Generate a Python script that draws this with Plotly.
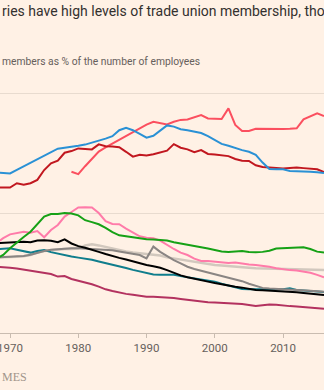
import plotly.graph_objects as go

years = list(range(1968, 2017))

# Trade union density, % of employees
blue = [66.8, 66.8, 66.5, 68.0, 69.5, 71.0, 72.5, 74.0, 75.5, 76.8,
        77.2, 77.5, 78.0, 78.5, 79.3, 80.0, 81.0, 82.0, 84.5, 85.5,
        84.5, 83.0, 81.4, 82.2, 84.5, 86.5, 86.0, 84.9, 84.5, 84.0,
        83.3, 82.0, 80.5, 78.8, 78.0, 77.0, 76.2, 75.5, 74.2, 71.0,
        68.3, 68.2, 68.2, 67.5, 67.5, 67.4, 67.2, 67.0, 66.7]
dark_red = [60.7, 60.7, 60.6, 62.4, 61.8, 62.4, 63.8, 67.9, 70.7, 71.8,
            75.1, 75.8, 76.9, 76.7, 76.5, 78.6, 77.8, 77.7, 77.4, 75.5,
            73.5, 74.3, 74.0, 74.5, 75.2, 76.0, 78.7, 77.2, 76.5, 75.3,
            76.2, 74.6, 74.4, 74.2, 73.7, 72.5, 71.8, 71.7, 69.9, 69.2,
            69.0, 68.8, 68.5, 68.8, 69.0, 68.7, 68.5, 68.2, 67.0]
salmon = [None] * 11 + [
    67.2, 66.2, 69.5, 72.5, 75.6, 77.3, 78.9, 80.5, 82.1, 83.7,
    85.3, 86.8, 88.0, 87.4, 86.9, 88.0, 88.8, 89.0, 90.0, 90.8,
    89.4, 89.3, 89.2, 93.6, 86.7, 84.2, 84.2, 85.1, 85.0, 84.9,
    84.9, 85.0, 85.1, 85.3, 89.0, 90.3, 91.5, 90.4]
pink = [37.4, 39.5, 41.1, 41.8, 42.2, 41.8, 42.5, 39.9, 42.9, 45.0,
        48.5, 50.4, 52.3, 52.4, 52.3, 50.0, 46.6, 45.4, 45.3, 43.5,
        41.8, 40.3, 39.7, 39.5, 38.5, 36.7, 35.0, 33.5, 32.5, 31.0,
        30.0, 30.0, 29.8, 29.4, 29.2, 29.4, 28.8, 28.5, 28.3, 28.0,
        27.6, 27.0, 26.5, 26.2, 26.0, 25.5, 25.1, 24.2, 23.2]
green = [31.0, 32.5, 35.3, 37.8, 40.0, 42.2, 45.5, 48.5, 49.6, 49.6,
         50.0, 49.8, 49.0, 47.0, 46.2, 45.3, 43.8, 42.0, 40.7, 40.3,
         40.0, 39.3, 39.1, 39.0, 38.9, 38.5, 37.8, 37.2, 36.6, 36.0,
         35.7, 35.2, 34.6, 34.0, 33.8, 34.0, 34.2, 33.8, 33.6, 33.8,
         34.3, 35.2, 35.3, 35.3, 35.5, 35.7, 35.0, 33.9, 33.5]
black = [37.4, 37.5, 37.8, 38.0, 38.0, 37.8, 38.5, 38.6, 38.4, 37.8,
         39.0, 37.3, 36.2, 35.5, 34.8, 33.8, 32.9, 32.0, 31.3, 30.6,
         29.8, 29.0, 28.3, 27.8, 27.2, 26.2, 25.0, 24.0, 23.2, 22.5,
         21.8, 21.4, 20.8, 20.2, 19.7, 19.3, 18.9, 18.4, 17.9, 17.8,
         17.7, 17.6, 17.4, 17.2, 17.0, 16.7, 16.4, 16.1, 15.8]
teal = [34.9, 35.0, 35.3, 34.7, 34.0, 33.5, 34.2, 34.6, 33.7, 33.0,
        32.5, 31.9, 31.4, 31.1, 30.5, 29.8, 29.2, 28.6, 28.0, 27.1,
        26.3, 25.6, 24.9, 24.4, 24.3, 24.3, 24.3, 23.7, 23.2, 22.6,
        22.1, 21.8, 21.4, 20.5, 19.7, 18.8, 18.3, 18.2, 18.2, 18.1,
        18.0, 17.9, 18.2, 18.6, 17.9, 17.7, 17.5, 17.3, 17.1]
dark_gray = [31.5, 31.8, 31.8, 32.0, 32.1, 32.6, 33.5, 34.2, 34.7, 35.0,
             35.3, 35.3, 35.3, 35.2, 35.0, 35.0, 34.7, 34.5, 34.0, 33.5,
             33.0, 32.5, 31.1, 36.0, 33.8, 32.0, 30.4, 29.0, 27.6, 26.7,
             26.0, 25.3, 24.6, 23.8, 23.3, 22.4, 21.6, 20.5, 19.6, 18.8,
             18.5, 18.4, 18.3, 18.1, 17.9, 17.8, 17.6, 17.4, 17.2]
light_gray = [31.5, 31.5, 31.6, 31.8, 32.0, 32.5, 33.5, 34.2, 34.5, 34.8,
              35.0, 35.0, 35.2, 36.5, 37.0, 36.5, 35.8, 35.2, 34.5, 34.0,
              33.5, 33.2, 33.0, 32.8, 32.3, 31.5, 31.0, 30.5, 30.0, 29.5,
              29.0, 28.5, 28.3, 28.1, 27.8, 27.6, 27.4, 27.2, 27.0, 26.9,
              26.9, 26.8, 26.7, 26.6, 26.5, 26.4, 26.4, 26.3, 26.2]
claret = [27.6, 27.5, 27.2, 26.9, 26.5, 25.8, 25.5, 25.2, 24.6, 23.5,
          23.75, 22.5, 21.8, 21.0, 20.3, 19.3, 18.2, 17.5, 16.8, 16.3,
          15.9, 15.5, 15.1, 15.1, 15.0, 14.9, 14.6, 14.2, 13.8, 13.3,
          13.0, 12.8, 12.7, 12.6, 12.4, 12.3, 12.1, 11.7, 11.3, 11.6,
          11.9, 11.8, 11.4, 11.2, 11.0, 10.8, 10.7, 10.4, 10.1]

tick_years = [1970, 1980, 1990, 2000, 2010]
title_text = "ries have high levels of trade union membership, tho"
subtitle_text = "members as % of the number of employees"
footer_text = "MES"

series = [
    (light_gray, "#d2c8be", 2.5),
    (claret, "#b3325f", 2),
    (teal, "#0f7d8c", 2),
    (dark_gray, "#8a8583", 2),
    (black, "#000000", 2),
    (pink, "#ff7ba9", 2),
    (green, "#16a116", 2),
    (salmon, "#fb4f5f", 2),
    (dark_red, "#c1171f", 2),
    (blue, "#2a91d5", 2),
]

fig = go.Figure()
for vals, color, width in series:
    fig.add_trace(go.Scatter(
        x=years, y=vals, mode="lines",
        line=dict(color=color, width=width),
        connectgaps=False, hoverinfo="skip", showlegend=False,
    ))

W, H = 324, 390
top_px, base_px = 81, 333
y_top = 105


def py(pixel):
    return (base_px - pixel) / (base_px - top_px)


fig.update_layout(
    width=W, height=H,
    margin=dict(l=0, r=0, t=top_px, b=H - base_px, autoexpand=False),
    paper_bgcolor="#fff1e5", plot_bgcolor="#fff1e5",
    showlegend=False,
    xaxis=dict(
        range=[1968.53, 2016.0],
        tickvals=tick_years,
        ticktext=[str(t) for t in tick_years],
        showgrid=False, zeroline=False,
        showline=True, linecolor="#c9bcb0", linewidth=1,
        ticks="outside", ticklen=4, tickcolor="#c9bcb0",
        tickfont=dict(family="Roboto", size=11.5, color="#66605c"),
        ticklabeloverflow="allow",
        automargin=False,
        fixedrange=True,
    ),
    yaxis=dict(
        range=[0, y_top],
        tickvals=[50, 100],
        showticklabels=False, showgrid=True,
        gridcolor="#e8dbcf", gridwidth=1,
        zeroline=False, showline=False, ticks="",
        automargin=False,
        fixedrange=True,
    ),
    annotations=[
        dict(text=title_text, xref="paper", yref="paper", x=0, y=py(11),
             xanchor="left", yanchor="middle", showarrow=False,
             font=dict(family="Roboto", size=14, color="#33302e")),
        dict(text=subtitle_text, xref="paper", yref="paper", x=0, y=py(61),
             xanchor="left", yanchor="middle", showarrow=False,
             font=dict(family="Roboto", size=10.3, color="#66605c")),
        dict(text=footer_text, xref="paper", yref="paper", x=0, y=py(377),
             xanchor="left", yanchor="middle", showarrow=False,
             font=dict(family="Liberation Serif", size=12, color="#a1958b")),
    ],
)

fig.write_html("out.html")
